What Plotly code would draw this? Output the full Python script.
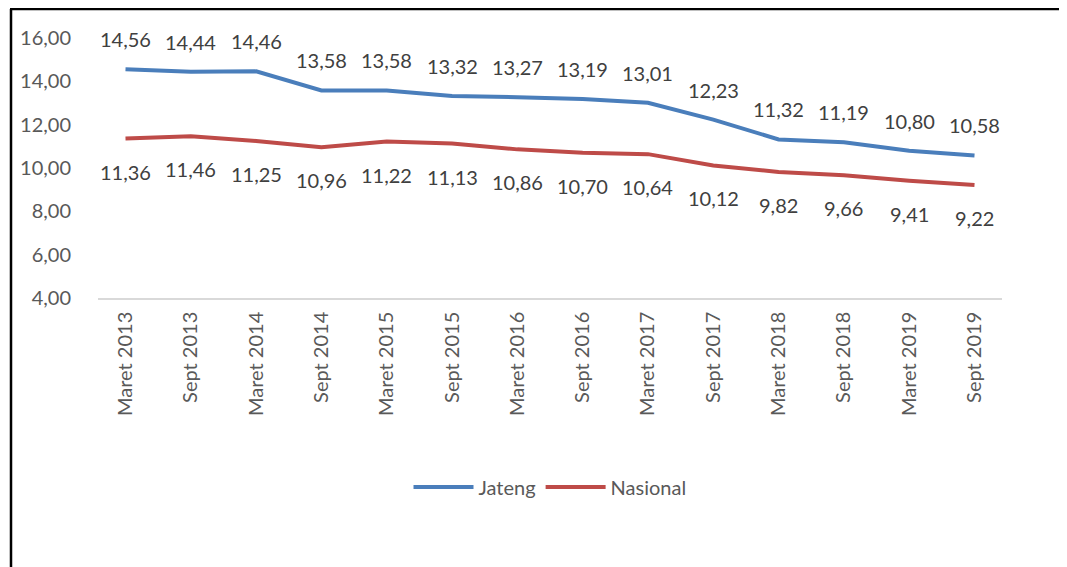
import plotly.graph_objects as go

categories = ["Maret 2013", "Sept 2013", "Maret 2014", "Sept 2014", "Maret 2015", "Sept 2015",
              "Maret 2016", "Sept 2016", "Maret 2017", "Sept 2017", "Maret 2018", "Sept 2018",
              "Maret 2019", "Sept 2019"]
jateng = [14.56, 14.44, 14.46, 13.58, 13.58, 13.32, 13.27, 13.19, 13.01, 12.23, 11.32, 11.19, 10.80, 10.58]
nasional = [11.36, 11.46, 11.25, 10.96, 11.22, 11.13, 10.86, 10.70, 10.64, 10.12, 9.82, 9.66, 9.41, 9.22]
y_ticks = [4, 6, 8, 10, 12, 14, 16]

def fmt(v):
    return f"{v:.2f}".replace(".", ",")

FONT = "Lato, Calibri, sans-serif"
LABEL = "#404040"
TICK = "#595959"

fig = go.Figure()
fig.add_trace(go.Scatter(
    x=categories, y=jateng, name="Jateng", mode="lines",
    line=dict(color="#4a7ebb", width=4),
))
fig.add_trace(go.Scatter(
    x=categories, y=nasional, name="Nasional", mode="lines",
    line=dict(color="#be4b48", width=4),
))

annotations = []
for c, v in zip(categories, jateng):
    annotations.append(dict(x=c, y=v, text=fmt(v), showarrow=False, yshift=30,
                            font=dict(size=20, color=LABEL, family=FONT)))
for c, v in zip(categories, nasional):
    annotations.append(dict(x=c, y=v, text=fmt(v), showarrow=False, yshift=-33,
                            font=dict(size=20, color=LABEL, family=FONT)))

W, H = 1067, 567
OFF = 8  # page body margin
ml, mr, mt, mb = 98 - OFF, 1067 - 1002 + OFF, 38 - OFF, 567 - 298 + OFF
pw, ph = W - ml - mr, H - mt - mb

def px_x(x):
    return (x - OFF - ml) / pw

def px_y(y):
    return (H - mb - (y - OFF)) / ph

fig.update_layout(
    width=W, height=H,
    margin=dict(l=ml, r=mr, t=mt, b=mb),
    paper_bgcolor="white", plot_bgcolor="white",
    font=dict(family=FONT, color=TICK),
    showlegend=True,
    annotations=annotations,
    legend=dict(orientation="h", x=0.5, xanchor="center", y=px_y(487), yanchor="middle",
                font=dict(size=20, color=TICK, family=FONT), itemwidth=60),
    xaxis=dict(type="category", tickangle=-90, showgrid=False, showline=True,
               linecolor="#d9d9d9", linewidth=1.5, ticks="",
               tickfont=dict(size=20, color=TICK, family=FONT), ticklabelstandoff=4),
    yaxis=dict(range=[4, 16], tickvals=y_ticks, ticktext=[fmt(v) for v in y_ticks],
               showgrid=False, zeroline=False, showline=False, ticks="",
               tickfont=dict(size=20, color=TICK, family=FONT), ticklabelstandoff=26),
    shapes=[
        dict(type="line", xref="paper", yref="paper", x0=px_x(10), x1=px_x(1080),
             y0=px_y(9), y1=px_y(9), line=dict(color="black", width=2.5)),
        dict(type="line", xref="paper", yref="paper", x0=px_x(11), x1=px_x(11),
             y0=px_y(9), y1=px_y(600), line=dict(color="black", width=2.5)),
    ],
)

fig.write_html("out.html")
